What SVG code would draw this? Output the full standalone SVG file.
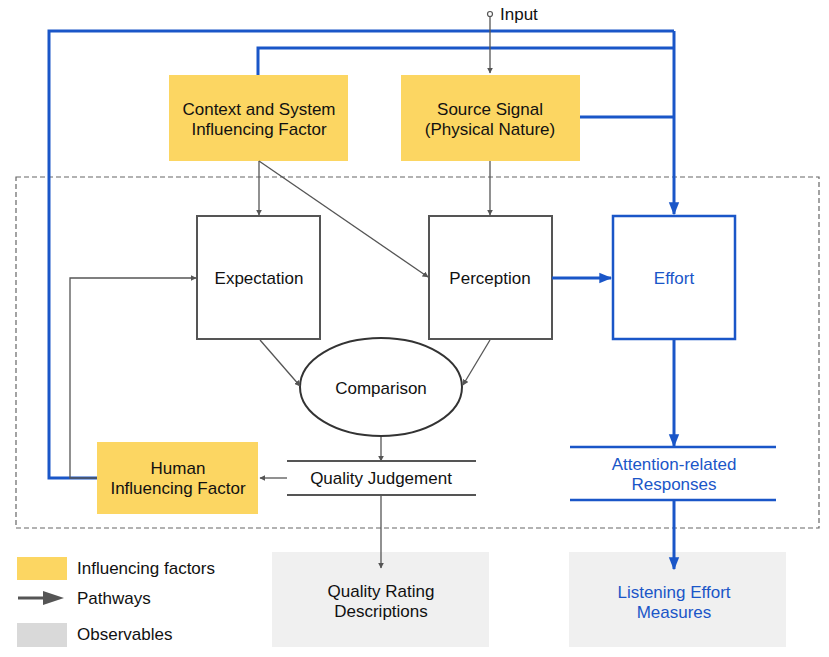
<svg xmlns="http://www.w3.org/2000/svg" width="829" height="657" viewBox="0 0 829 657">
<style>
text{font-family:"Liberation Sans",Arial,sans-serif;font-size:17px;fill:#111;text-anchor:middle}
.b{fill:#1a56c8}
.l{text-anchor:start}
.yel{fill:#fcd662}
.obs{fill:#f0f0f0}
.box{fill:#fff;stroke:#555;stroke-width:2}
.gl{stroke:#555;stroke-width:1.3;fill:none}
.bl{stroke:#1a56c8;stroke-width:3;fill:none}
</style>
<defs>
<marker id="ga" viewBox="0 0 10 10" refX="9" refY="5" markerWidth="6" markerHeight="6" markerUnits="userSpaceOnUse" orient="auto"><path d="M0,0L10,5L0,10z" fill="#555"/></marker>
<marker id="ba" viewBox="0 0 10 10" refX="9" refY="5" markerWidth="13" markerHeight="13" markerUnits="userSpaceOnUse" orient="auto"><path d="M0,1L10,5L0,9z" fill="#1a56c8"/></marker>
</defs>
<rect x="16" y="177" width="803" height="351" fill="none" stroke="#666" stroke-width="1.2" stroke-dasharray="5,3"/>
<g id="input">
<circle cx="490" cy="14" r="2.5" fill="#fff" stroke="#555" stroke-width="1.2"/>
<text class="l" x="500" y="20">Input</text>
</g>
<g id="context">
<rect class="yel" x="169" y="75" width="179" height="86"/>
<text x="259" y="115">Context and System</text>
<text x="259" y="135">Influencing Factor</text>
</g>
<g id="source">
<rect class="yel" x="401" y="75" width="179" height="86"/>
<text x="490" y="115">Source Signal</text>
<text x="490" y="135">(Physical Nature)</text>
</g>
<g id="expectation">
<rect class="box" x="197" y="216" width="123" height="123"/>
<text x="259" y="284">Expectation</text>
</g>
<g id="perception">
<rect class="box" x="429" y="216" width="123" height="123"/>
<text x="490" y="284">Perception</text>
</g>
<g id="effort">
<rect x="613" y="216" width="122" height="123" fill="#fff" stroke="#1a56c8" stroke-width="2.5"/>
<text class="b" x="674" y="284">Effort</text>
</g>
<g id="comparison">
<ellipse cx="381" cy="387" rx="81" ry="49" fill="#fff" stroke="#333" stroke-width="2"/>
<text x="381" y="394">Comparison</text>
</g>
<g id="quality-judgement">
<path d="M287,461H476M287,495H476" stroke="#555" stroke-width="2"/>
<text x="381" y="484">Quality Judgement</text>
</g>
<g id="human">
<rect class="yel" x="97" y="442" width="161" height="72"/>
<text x="178" y="474">Human</text>
<text x="178" y="494">Influencing Factor</text>
</g>
<g id="attention">
<path d="M570,447H776M570,500H776" stroke="#1a56c8" stroke-width="2.5"/>
<text class="b" x="674" y="470">Attention-related</text>
<text class="b" x="674" y="490">Responses</text>
</g>
<g id="quality-rating">
<rect class="obs" x="272" y="552" width="217" height="95"/>
<text x="381" y="597">Quality Rating</text>
<text x="381" y="617">Descriptions</text>
</g>
<g id="listening">
<rect class="obs" x="569" y="552" width="217" height="95"/>
<text class="b" x="674" y="598">Listening Effort</text>
<text class="b" x="674" y="618">Measures</text>
</g>
<g id="connectors">
<path class="bl" d="M97,478H49V31H674"/>
<path class="bl" d="M258,75V48H674"/>
<path class="bl" d="M580,117H674"/>
<path class="bl" d="M674,31V214" marker-end="url(#ba)"/>
<path class="bl" d="M552,278H611" marker-end="url(#ba)"/>
<path class="bl" d="M674,339V446" marker-end="url(#ba)"/>
<path class="bl" d="M674,500V569" marker-end="url(#ba)"/>
<path class="gl" d="M490,16V73" marker-end="url(#ga)"/>
<path class="gl" d="M259,161V215" marker-end="url(#ga)"/>
<path class="gl" d="M259,161L428,277" marker-end="url(#ga)"/>
<path class="gl" d="M490,161V215" marker-end="url(#ga)"/>
<path class="gl" d="M97,478H70V278H196" marker-end="url(#ga)"/>
<path class="gl" d="M260,340L300,386" marker-end="url(#ga)"/>
<path class="gl" d="M490,340L463,385" marker-end="url(#ga)"/>
<path class="gl" d="M381,437V461" marker-end="url(#ga)"/>
<path class="gl" d="M381,496V568" marker-end="url(#ga)"/>
<path class="gl" d="M287,478H260" marker-end="url(#ga)"/>
</g>
<g id="legend">
<rect class="yel" x="17" y="557" width="50" height="23"/>
<text class="l" x="77" y="574">Influencing factors</text>
<path d="M18,598H46" stroke="#555" stroke-width="3"/>
<path d="M43,591L64,598L43,605z" fill="#555"/>
<text class="l" x="77" y="604">Pathways</text>
<rect x="17" y="623" width="50" height="24" fill="#d9d9d9"/>
<text class="l" x="77" y="640">Observables</text>
</g>
</svg>
